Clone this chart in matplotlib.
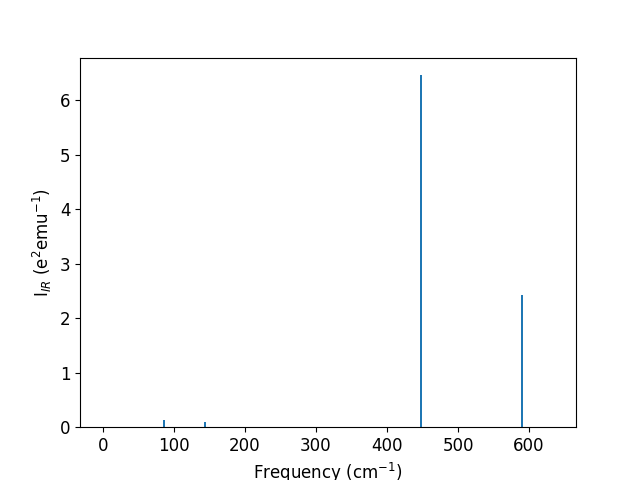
import numpy as np
import matplotlib
matplotlib.use('Agg')
import matplotlib.pyplot as plt

# IR-active modes (frequency in cm^-1, intensity in e^2 emu^-1)
freqs = [0.0, 86.0, 144.0, 448.0, 590.0, 634.0]
intensities = [0.0, 0.13, 0.10, 6.46, 2.42, 0.0]

plt.rcParams['font.size'] = 12

fig, ax = plt.subplots(figsize=(6.4, 4.8), dpi=100)
ax.bar(freqs, intensities, width=2.5, color='#1f77b4')
ax.set_xlim(-32, 666)
ax.set_ylim(0, 6.78)
ax.set_xlabel('Frequency (cm$^{-1}$)')
ax.set_ylabel('I$_{IR}$ (e$^2$emu$^{-1}$)')
plt.savefig('out.png', dpi=100)
